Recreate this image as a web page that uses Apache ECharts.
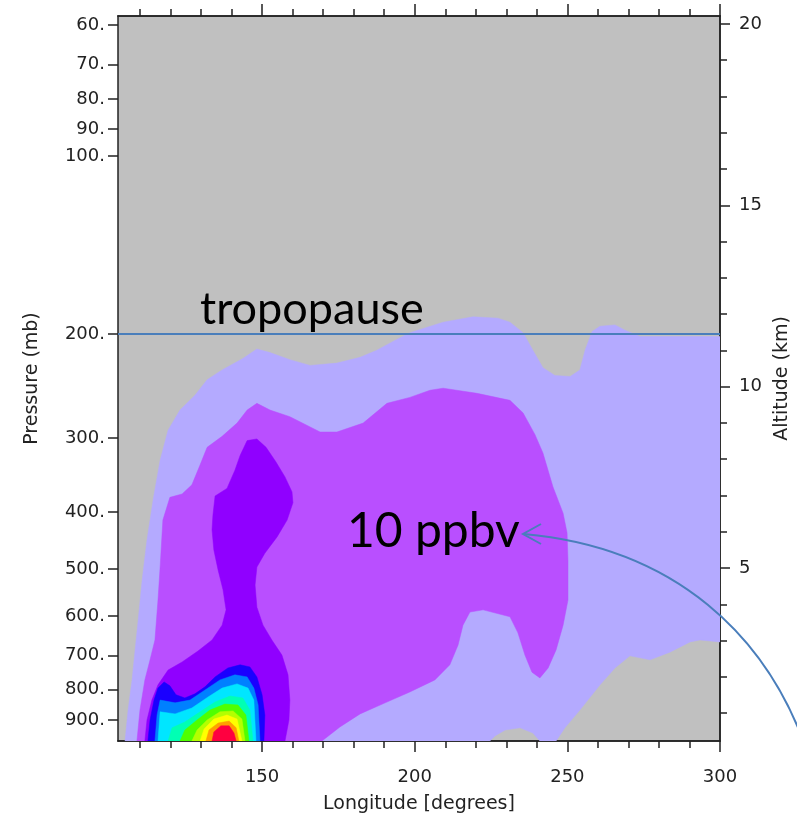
<!DOCTYPE html>
<html><head><meta charset="utf-8">
<script src="https://cdn.jsdelivr.net/npm/echarts@6/dist/echarts.min.js"></script>
<style>html,body{margin:0;padding:0;background:#fff}#c{width:797px;height:818px}</style>
</head><body><div id="c"></div>
<script>
// ---- axis ranges / ticks ----
const lonMin = 102.8, lonMax = 300;
const pTop = 57.9, pBottom = 977;
const altMin = 0.23, altMax = 20.22;
const pressureTicks = [60, 70, 80, 90, 100, 200, 300, 400, 500, 600, 700, 800, 900];
const lonMajorTicks = [150, 200, 250, 300];
const lonMinorTicks = [110, 120, 130, 140, 160, 170, 180, 190, 210, 220, 230, 240, 260, 270, 280, 290];
const altMajorTicks = [5, 10, 15, 20];
const altMinorTicks = [1,2,3,4,5,6,7,8,9,10,11,12,13,14,15,16,17,18,19,20];
const tropopauseP = 200;

// ---- contour regions [longitude, pressure mb], from outermost to innermost ----
const lev1 = [[105.1,977],[106.1,866],[107.4,770],[108.4,685],[109.4,610],[110.7,522],[112.3,446],[114.3,382],[116.6,327],[119.2,291],[123.1,269],[128.0,254],[132.0,239],[136.9,230],[143.7,220],[148.3,212],[152.6,215],[159.1,221],[165.7,226],[174.5,224],[182.1,219],[187.6,213],[193.5,205],[198.4,199],[209.3,191],[219.1,187],[227.3,188],[231.2,191],[235.5,199],[238.7,213],[242.0,228],[245.9,235],[250.9,236],[254.1,230],[255.8,213],[258.1,198],[260.7,194],[265.6,193],[268.9,197],[273.8,202],[300,202],[300,664],[293.4,659],[290.2,664],[283.6,691],[277.1,712],[270.5,701],[265.6,735],[260.7,785],[254.1,866],[249.2,928],[246.3,977],[241.0,977],[238.7,947],[234.5,928],[229.6,936],[226.3,958],[224.6,977]];
const lev2 = [[109.0,977],[110.0,866],[111.6,770],[113.3,712],[114.9,659],[115.9,564],[116.6,496],[117.5,413],[119.8,378],[123.8,373],[127.0,360],[129.7,333],[132.0,311],[136.9,298],[141.8,283],[145.1,269],[148.3,262],[152.6,269],[159.1,276],[169.0,293],[174.5,293],[183.1,283],[190.9,262],[198.4,256],[205.0,249],[209.3,247],[220.4,252],[231.2,259],[235.5,272],[239.4,296],[242.0,318],[245.3,363],[248.6,402],[249.9,434],[250.2,483],[250.2,564],[248.6,622],[246.3,685],[243.7,735],[241.0,764],[238.4,747],[236.1,699],[233.8,641],[231.2,602],[222.4,586],[218.1,591],[215.8,622],[214.2,672],[211.5,726],[206.6,770],[198.4,807],[190.3,842],[182.1,879],[175.5,925],[169.6,977]];
const lev3 = [[148.3,301],[151.3,311],[154.5,329],[157.5,349],[159.8,370],[160.1,386],[158.2,413],[154.9,441],[150.9,470],[148.3,496],[147.7,532],[148.3,580],[150.3,622],[153.2,659],[156.5,699],[158.5,755],[159.1,833],[158.8,900],[157.5,977],[111.6,977],[112.3,900],[113.9,833],[115.9,785],[119.2,741],[123.8,718],[129.0,688],[133.6,659],[136.9,622],[138.2,586],[137.2,542],[135.6,502],[134.2,464],[133.6,429],[133.9,405],[134.6,376],[138.5,365],[141.1,340],[142.8,321],[145.1,303]];
const lev4 = [[112.6,977],[113.3,900],[114.6,833],[115.9,795],[117.9,776],[119.8,788],[121.8,816],[124.7,826],[128.0,813],[131.3,791],[134.6,761],[138.8,735],[142.8,726],[146.0,732],[148.3,761],[150.0,816],[150.9,883],[150.6,977]];
const lev5 = [[114.9,977],[115.6,883],[116.6,833],[121.5,842],[126.4,833],[131.3,801],[136.2,770],[141.1,755],[145.1,761],[147.3,795],[148.7,849],[149.3,977]];
const lev6 = [[115.9,977],[116.6,872],[121.5,879],[127.0,859],[132.3,823],[136.9,795],[141.8,782],[145.4,795],[147.3,833],[148.0,977]];
const lev7 = [[119.2,977],[120.5,928],[124.7,907],[129.7,872],[134.6,839],[139.5,820],[143.7,826],[146.0,866],[147.0,977]];
const lev8 = [[123.1,977],[124.7,936],[128.7,900],[132.9,866],[137.8,846],[142.1,849],[144.7,883],[145.7,977]];
const lev9 = [[127.0,977],[128.7,936],[132.0,900],[136.2,872],[140.5,869],[143.4,897],[144.4,977]];
const lev10 = [[129.7,977],[131.0,932],[134.2,897],[138.5,883],[141.8,897],[143.4,977]];
const lev11 = [[131.6,977],[132.6,936],[135.6,911],[139.2,904],[141.5,928],[142.4,977]];
const lev12 = [[133.6,977],[134.2,943],[136.5,921],[139.2,921],[140.8,947],[141.5,977]];

const levels = [lev1, lev2, lev3, lev4, lev5, lev6, lev7, lev8, lev9, lev10, lev11, lev12];
const levelColors = ['#b4aaff','#b94fff','#9000ff','#1a00ff','#0080ff','#00e6ff','#00ffb4','#50ff00','#b4ff00','#ffff00','#ffa000','#ff0040'];

const L = Math.log10;
const axisCol = '#222';
const lblFont = {fontFamily: 'DejaVu Sans', fontSize: 18, color: '#222'};
const nameFont = {fontFamily: 'DejaVu Sans', fontSize: 19, color: '#222'};

function polySeries(points, color, z) {
  return {
    type: 'custom', coordinateSystem: 'cartesian2d', xAxisIndex: 0, yAxisIndex: 0,
    silent: true, clip: true, z: z,
    data: points.map(p => [p[0], L(p[1])]),
    renderItem: function (params, api) {
      if (params.dataIndex !== 0) return null;
      const pts = points.map(p => api.coord([p[0], L(p[1])]));
      return {type: 'polygon', shape: {points: pts}, style: {fill: color, stroke: color, lineWidth: 0.5}};
    }
  };
}

const series = levels.map((lv, i) => polySeries(lv, levelColors[i], 2 + i));
series.push({
  type: 'line', xAxisIndex: 0, yAxisIndex: 0, silent: true, z: 30,
  symbol: 'none', clip: true,
  data: [[lonMin, L(tropopauseP)], [lonMax, L(tropopauseP)]],
  lineStyle: {color: '#4a7ebb', width: 2}
});

function xAx(pos, ticks, len, labels, name) {
  return {
    type: 'value', min: lonMin, max: lonMax, position: pos,
    axisLine: {show: true, onZero: false, lineStyle: {color: axisCol, width: 1.5}},
    axisTick: {show: true, length: len, customValues: ticks, lineStyle: {color: axisCol, width: 1.5}},
    axisLabel: labels ? Object.assign({customValues: ticks, margin: 27}, lblFont) : {show: false},
    splitLine: {show: false},
    name: name || '', nameLocation: 'middle', nameGap: 54,
    nameTextStyle: nameFont
  };
}
function altAx(ticks, len, labels) {
  return {
    type: 'value', min: altMin, max: altMax, position: 'right',
    axisLine: {show: true, onZero: false, lineStyle: {color: axisCol, width: 1.5}},
    axisTick: {show: true, length: len, customValues: ticks, lineStyle: {color: axisCol, width: 1.5}},
    axisLabel: labels ? Object.assign({customValues: ticks, margin: 19}, lblFont) : {show: false},
    splitLine: {show: false},
    name: labels ? 'Altitude (km)' : '', nameLocation: 'middle', nameGap: 53, nameRotate: 90,
    nameTextStyle: nameFont
  };
}

const option = {
  backgroundColor: '#fff',
  animation: false,
  grid: {left: 118, top: 16, width: 602, height: 725, show: true, backgroundColor: '#c0c0c0', borderWidth: 0,
         containLabel: false, outerBoundsMode: 'none'},
  xAxis: [
    xAx('bottom', lonMajorTicks, 11, true, 'Longitude [degrees]'),
    xAx('bottom', lonMinorTicks, 7, false),
    xAx('top', lonMajorTicks, 12, false),
    xAx('top', lonMinorTicks, 7, false)
  ],
  yAxis: [
    {
      type: 'value', min: L(pTop), max: L(pBottom), inverse: true, position: 'left',
      axisLine: {show: true, onZero: false, lineStyle: {color: axisCol, width: 1.5}},
      axisTick: {show: true, length: 10, customValues: pressureTicks.map(L), lineStyle: {color: axisCol, width: 1.5}},
      axisLabel: Object.assign({customValues: pressureTicks.map(L), margin: 13,
        formatter: v => Math.round(Math.pow(10, v)) + '.'}, lblFont),
      splitLine: {show: false},
      name: 'Pressure (mb)', nameLocation: 'middle', nameGap: 76, nameRotate: 90,
      nameTextStyle: nameFont
    },
    altAx(altMinorTicks, 7, false),
    altAx(altMajorTicks, 10, true)
  ],
  graphic: [
    {type: 'text', left: 200, top: 287, z: 100, style: {text: 'tropopause', fontFamily: 'Lato', fontSize: 45, fill: '#000'}},
    {type: 'text', left: 347, top: 508, z: 100, style: {text: '10 ppbv', fontFamily: 'Lato', fontSize: 48, fill: '#000'}},
    {type: 'bezierCurve', z: 100, shape: {x1: 803, y1: 740, cpx1: 765, cpy1: 640, cpx2: 680, cpy2: 548, x2: 524, y2: 534},
      style: {stroke: '#4a7ebb', lineWidth: 2, fill: null}},
    {type: 'polyline', z: 100, shape: {points: [[541, 524], [523, 534], [541, 544]]},
      style: {stroke: '#4a7ebb', lineWidth: 2, fill: null}}
  ],
  series: series
};

const chart = echarts.init(document.getElementById('c'), null, {renderer: 'canvas'});
chart.setOption(option);
</script>
</body></html>
